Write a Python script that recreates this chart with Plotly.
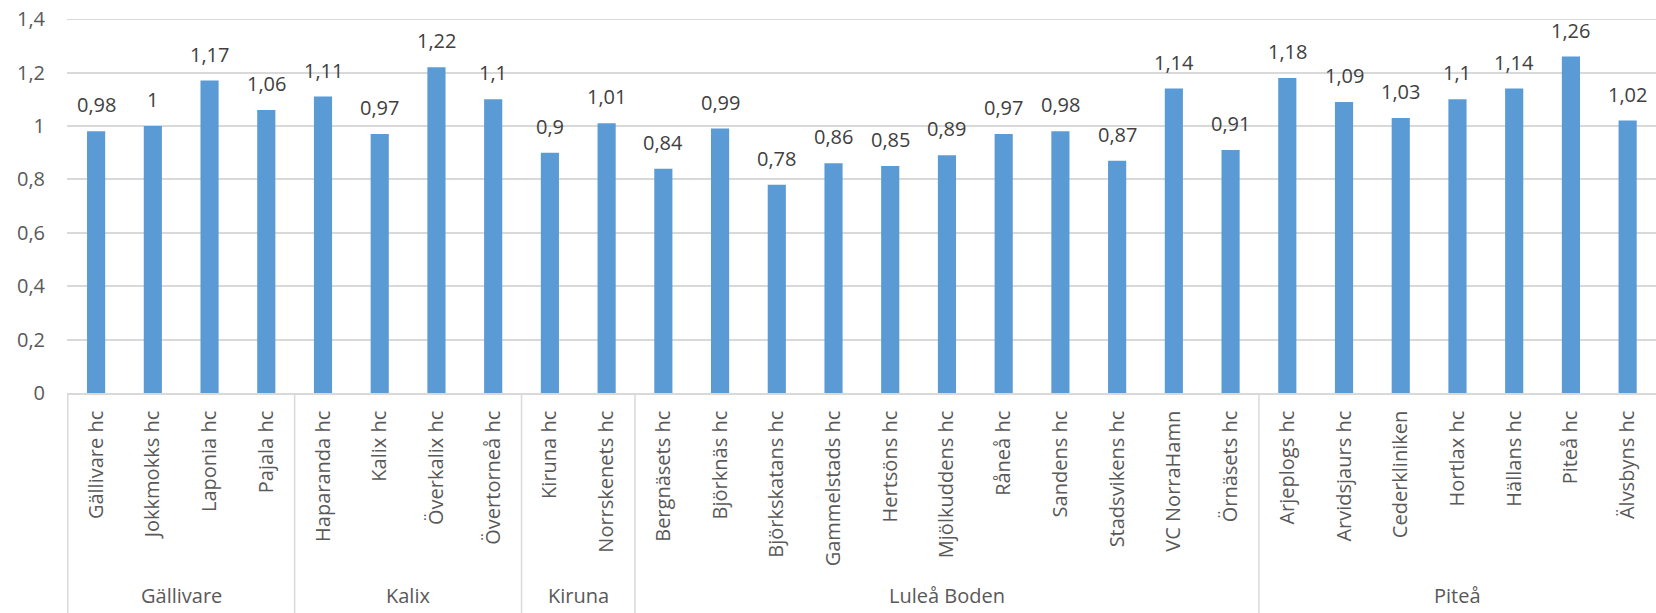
import plotly.graph_objects as go

group_names = ["Gällivare", "Kalix", "Kiruna", "Luleå Boden", "Piteå"]
group_sizes = [4, 4, 2, 11, 7]
units = [
    "Gällivare hc", "Jokkmokks hc", "Laponia hc", "Pajala hc",
    "Haparanda hc", "Kalix hc", "Överkalix hc", "Övertorneå hc",
    "Kiruna hc", "Norrskenets hc",
    "Bergnäsets hc", "Björknäs hc", "Björkskatans hc", "Gammelstads hc", "Hertsöns hc",
    "Mjölkuddens hc", "Råneå hc", "Sandens hc", "Stadsvikens hc", "VC NorraHamn", "Örnäsets hc",
    "Arjeplogs hc", "Arvidsjaurs hc", "Cederkliniken", "Hortlax hc", "Hällans hc", "Piteå hc", "Älvsbyns hc",
]
values = [
    0.98, 1.00, 1.17, 1.06,
    1.11, 0.97, 1.22, 1.10,
    0.90, 1.01,
    0.84, 0.99, 0.78, 0.86, 0.85, 0.89, 0.97, 0.98, 0.87, 1.14, 0.91,
    1.18, 1.09, 1.03, 1.10, 1.14, 1.26, 1.02,
]
y_ticks = [0, 0.2, 0.4, 0.6, 0.8, 1.0, 1.2, 1.4]
y_ticktext = ["0", "0,2", "0,4", "0,6", "0,8", "1", "1,2", "1,4"]

labels = [f"{v:g}".replace(".", ",") for v in values]

FONT = "Open Sans"
GRAY = "#595959"
LABEL = "#404040"
LINE = "#d9d9d9"

W, H = 1656, 613
M_L, M_T, M_B = 67, 19, 220
plot_h = H - M_T - M_B

fig = go.Figure(
    go.Bar(
        x=units,
        y=values,
        marker=dict(color="#5b9bd5", line=dict(width=0)),
        hoverinfo="x+y",
    )
)

# data labels above bars
annotations = []
for u, v, t in zip(units, values, labels):
    annotations.append(dict(
        x=u, y=v, xref="x", yref="y", text=t, showarrow=False,
        yanchor="bottom", xanchor="center", yshift=11,
        font=dict(family=FONT, size=20, color=LABEL),
    ))

# group labels and dividers
shapes = []
start = 0
bottom = -M_B / plot_h
for name, n in zip(group_names, group_sizes):
    shapes.append(dict(
        type="line", xref="x", yref="paper",
        x0=start - 0.5, x1=start - 0.5, y0=0, y1=bottom,
        line=dict(color=LINE, width=1.5),
    ))
    annotations.append(dict(
        x=start + (n - 1) / 2, y=-218 / plot_h, xref="x", yref="paper",
        text=name, showarrow=False, yanchor="bottom", xanchor="center",
        font=dict(family=FONT, size=20, color=GRAY),
    ))
    start += n

# top gridline drawn as a shape so it is never culled at the range edge
shapes.append(dict(
    type="line", xref="paper", yref="y", x0=0, x1=1, y0=y_ticks[-1], y1=y_ticks[-1],
    line=dict(color=LINE, width=1.5), layer="below",
))

fig.update_layout(
    width=W,
    height=H,
    margin=dict(l=M_L, r=0, t=M_T, b=M_B, autoexpand=False),
    plot_bgcolor="white",
    paper_bgcolor="white",
    bargap=0.68,
    showlegend=False,
    font=dict(family=FONT, size=20, color=GRAY),
    annotations=annotations,
    shapes=shapes,
)
fig.update_xaxes(
    type="category",
    tickangle=-90,
    showline=True,
    linecolor=LINE,
    linewidth=1.5,
    showgrid=False,
    ticks="",
    automargin=False,
    ticklabelstandoff=8,
    tickfont=dict(family=FONT, size=20, color=GRAY),
)
fig.update_yaxes(
    range=[0, 1.4005],
    tickvals=y_ticks,
    ticktext=y_ticktext,
    showgrid=True,
    gridcolor=LINE,
    gridwidth=1.5,
    zeroline=False,
    showline=False,
    ticks="",
    automargin=False,
    ticklabelstandoff=21,
    ticklabeloverflow="allow",
    tickfont=dict(family=FONT, size=20, color=GRAY),
)

fig.write_html(
    "out.html",
    config={"displayModeBar": False},
    post_script="document.body.style.margin='0';document.body.style.overflow='hidden';",
)
